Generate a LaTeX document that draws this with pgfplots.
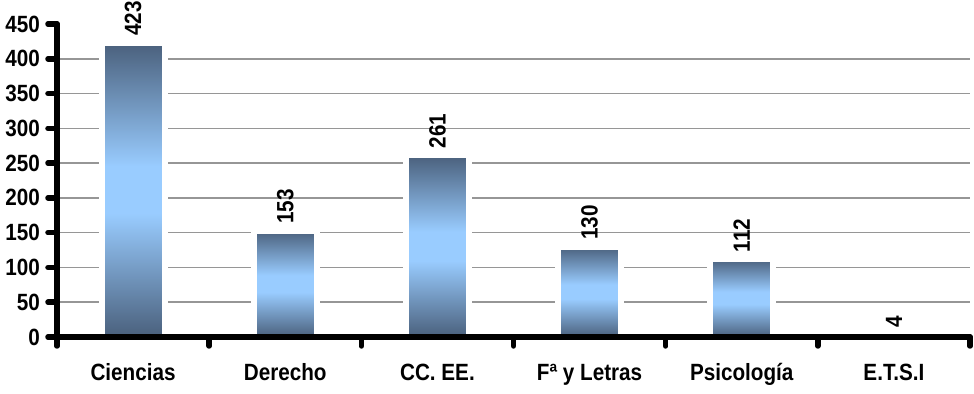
\documentclass[border=0pt]{standalone}
\usepackage{fontspec}
\setmainfont{Liberation Sans}
\newfontfamily\narrowfont{Liberation Sans}[FakeStretch=0.88]
\usepackage{pgfplots}
\pgfplotsset{compat=1.18}
\definecolor{bardark}{RGB}{74,96,124}
\definecolor{barlight}{RGB}{153,204,255}
\definecolor{gridgray}{RGB}{150,150,150}
\pgfdeclareverticalshading{barshade}{100bp}{color(0bp)=(bardark); color(25bp)=(bardark); color(46bp)=(barlight); color(54bp)=(barlight); color(75bp)=(bardark); color(100bp)=(bardark)}
\pgfplotsset{
  layers/mylayers/.define layer set={
    axis background,axis grid,pre main,main,axis ticks,axis lines,axis tick labels,axis descriptions,axis foreground
  }{
    grid style={/pgfplots/on layer=axis grid},
    tick style={/pgfplots/on layer=axis ticks},
    axis line style={/pgfplots/on layer=axis lines},
    label style={/pgfplots/on layer=axis descriptions},
    legend style={/pgfplots/on layer=axis descriptions},
    title style={/pgfplots/on layer=axis descriptions},
    colorbar style={/pgfplots/on layer=axis descriptions},
    ticklabel style={/pgfplots/on layer=axis tick labels},
    axis background@ style={/pgfplots/on layer=axis background},
    3d box foreground style={/pgfplots/on layer=axis foreground},
  },
}
\newcommand{\cf}{\narrowfont\fontsize{23.5}{25}\selectfont\bfseries}
\pgfplotsset{
  gradbar/.style={ybar, bar shift=0pt, bar width=63pt, draw=white, line width=6pt,
    shade, shading=barshade,
    nodes near coords,
    every node near coord/.append style={rotate=90, anchor=west, font=\cf, text=black, inner sep=4pt}},
}
\begin{document}
\begin{tikzpicture}
\begin{axis}[
  name=ax,
  set layers=mylayers,
  scale only axis, width=913pt, height=313pt,
  xmin=0.5, xmax=6.5, ymin=0, ymax=450,
  axis lines*=left,
  axis line style={line width=5.5pt, black, line cap=round},
  tick style={line width=5.5pt, black, line cap=round},
  tick align=outside,
  major tick length=9pt,
  /pgf/number format/assume math mode=true,
  ytick={0,50,...,450},
  yticklabel style={font=\cf, inner sep=2pt, xshift=-6pt},
  xtick={0.5,1.5,...,6.5},
  xticklabels={},
  extra x ticks={1,2,3,4,5,6},
  extra x tick labels={Ciencias,Derecho,CC. EE.,Fª y Letras,Psicología,E.T.S.I},
  extra x tick style={major tick length=0pt, xticklabel style={font=\cf, text height=0.75em, text depth=0.25em, yshift=-32pt}},
  extra y ticks={50,100,...,400},
  extra y tick labels={},
  extra y tick style={grid=major, major tick length=0pt},
  grid style={gridgray, line width=1.5pt},
  clip=false,
]
\addplot[gradbar] coordinates {(1,423)};
\addplot[gradbar] coordinates {(2,153)};
\addplot[gradbar] coordinates {(3,261)};
\addplot[gradbar] coordinates {(4,130)};
\addplot[gradbar] coordinates {(5,112)};
\addplot[gradbar] coordinates {(6,4)};
\end{axis}
\pgfresetboundingbox
\path ([shift={(-57pt,-57pt)}]ax.south west) rectangle ([shift={(4pt,24pt)}]ax.north east);
\end{tikzpicture}
\end{document}
